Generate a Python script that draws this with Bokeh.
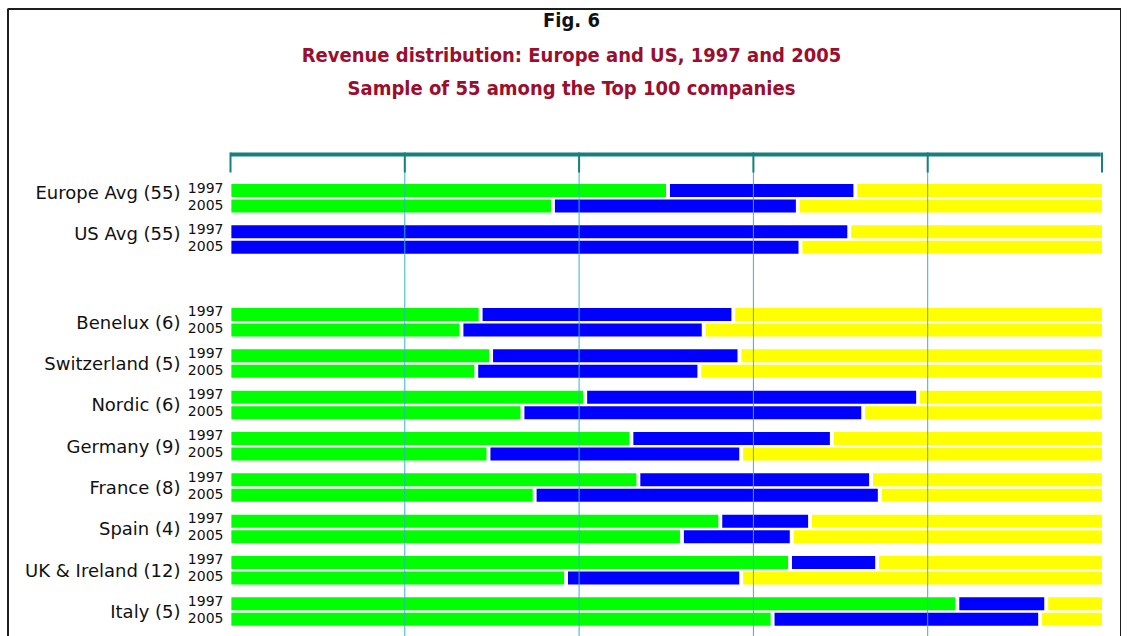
from bokeh.plotting import figure
from bokeh.models import Range1d, ColumnDataSource
from bokeh.core.properties import value
from bokeh.embed import file_html
from bokeh.resources import INLINE

# ---------------- data ----------------
groups = ["Europe Avg (55)", "US Avg (55)", "Benelux (6)", "Switzerland (5)",
          "Nordic (6)", "Germany (9)", "France (8)", "Spain (4)",
          "UK & Ireland (12)", "Italy (5)"]
years = ["1997", "2005"]
# revenue shares in % (green / blue / yellow segments) per group
green_1997 = [50.2, 0.0, 28.7, 29.9, 40.7, 46.0, 46.8, 56.2, 64.2, 83.4]
blue_1997 = [21.5, 71.0, 29.0, 28.5, 38.2, 23.0, 26.7, 10.3, 10.0, 10.2]
yellow_1997 = [28.3, 29.0, 42.3, 41.6, 21.1, 31.0, 26.5, 33.5, 25.8, 6.4]
green_2005 = [37.0, 0.0, 26.5, 28.2, 33.5, 29.6, 34.9, 51.8, 38.5, 62.2]
blue_2005 = [28.1, 65.4, 27.8, 25.6, 39.1, 29.0, 39.6, 12.6, 20.1, 30.7]
yellow_2005 = [34.9, 34.6, 45.7, 46.2, 27.4, 41.4, 25.5, 35.6, 41.4, 7.1]
ticks = [0, 20, 40, 60, 80, 100]
title_lines = ["Fig. 6", "Revenue distribution: Europe and US, 1997 and 2005",
               "Sample of 55 among the Top 100 companies"]

# ---------------- layout / style ----------------
W, H = 1121, 636
PX_PER_PCT = 8.715
X0_SCREEN = 230.0          # screen x of 0 %
def xs(sx):                # screen x -> data x
    return (sx - X0_SCREEN) / PX_PER_PCT

COLORS = ["#00ff00", "#0000ff", "#ffff00"]
TEAL = "#17807e"
GRID = "#35b3c1"
RED = "#9b0e2e"
TITLE_FONT = "DejaVu Sans Condensed"
LABEL_FONT = "DejaVu Sans"

p = figure(width=W, height=H, output_backend="svg", toolbar_location=None,
           x_range=Range1d(xs(0), xs(W)), y_range=Range1d(H, 0),
           min_border=0, min_border_left=0, min_border_right=0,
           min_border_top=0, min_border_bottom=0)
p.axis.visible = False
p.grid.visible = False
p.outline_line_color = None
p.background_fill_color = "white"
p.border_fill_color = "white"

# frame border of the figure box
p.quad(left=[xs(7.5)], right=[xs(1120.5)], top=[8.5], bottom=[H + 20],
       fill_color=None, line_color="#1e1e1e", line_width=2)

slots = [0, 1, 3, 4, 5, 6, 7, 8, 9, 10]
ROW0, SLOT_H, PAIR_DY, BAR_H = 190.0, 41.33, 15.5, 13.0
GAP = 0.45

# bars
bx_l, bx_r, by, bc = [], [], [], []
series = {0: (green_1997, blue_1997, yellow_1997), 1: (green_2005, blue_2005, yellow_2005)}
for gi, g in enumerate(groups):
    for yi in range(2):
        yc = ROW0 + SLOT_H * slots[gi] + PAIR_DY * yi
        segs = [series[yi][k][gi] for k in range(3)]
        start = 0.0
        for k, v in enumerate(segs):
            end = start + v
            if v > 0:
                left = start + (GAP / 2 if start > 0.01 else 0.1)
                right = end - (GAP / 2 if end < 99.9 else 0)
                bx_l.append(left); bx_r.append(right); by.append(yc); bc.append(COLORS[k])
            start = end
src = ColumnDataSource(dict(left=bx_l, right=bx_r, y=by, color=bc))
p.hbar(y="y", left="left", right="right", height=BAR_H, fill_color="color",
       line_color=None, source=src)

# grid lines (over bars)
p.segment(x0=ticks[1:-1], x1=ticks[1:-1], y0=[156] * 4, y1=[H + 10] * 4,
          line_color=GRID, line_width=1)

# top axis
p.segment(x0=[ticks[0]], x1=[ticks[-1] - 0.15], y0=[154], y1=[154],
          line_color=TEAL, line_width=4)
p.segment(x0=ticks, x1=ticks, y0=[152] * len(ticks), y1=[172] * len(ticks),
          line_color=TEAL, line_width=2)

# titles
cx = xs(571)
p.text(x=[cx], y=[19], text=[title_lines[0]], text_align="center",
       text_baseline="middle", text_font=value(TITLE_FONT), text_font_style="bold",
       text_font_size="20px", text_color="#111111")
p.text(x=[cx, cx], y=[54, 87], text=title_lines[1:], text_align="center",
       text_baseline="middle", text_font=value(TITLE_FONT), text_font_style="bold",
       text_font_size="20px", text_color=RED)

# row labels
lab_y, yr_txt, yr_y = [], [], []
for gi, g in enumerate(groups):
    y97 = ROW0 + SLOT_H * slots[gi]
    mid = y97 + PAIR_DY / 2
    lab_y.append(mid - 6 if gi < 2 else mid)
    yr_txt += years
    yr_y += [y97 - 3, y97 + PAIR_DY - 1.5]
p.text(x=[xs(180)] * len(groups), y=lab_y, text=groups, text_align="right",
       text_baseline="middle", text_font=value(LABEL_FONT), text_font_size="18px",
       text_color="#111111")
p.text(x=[xs(223)] * len(yr_txt), y=yr_y, text=yr_txt, text_align="right",
       text_baseline="middle", text_font=value(LABEL_FONT), text_font_size="14px",
       text_color="#111111")

open("out.html", "w").write(file_html(p, INLINE))
